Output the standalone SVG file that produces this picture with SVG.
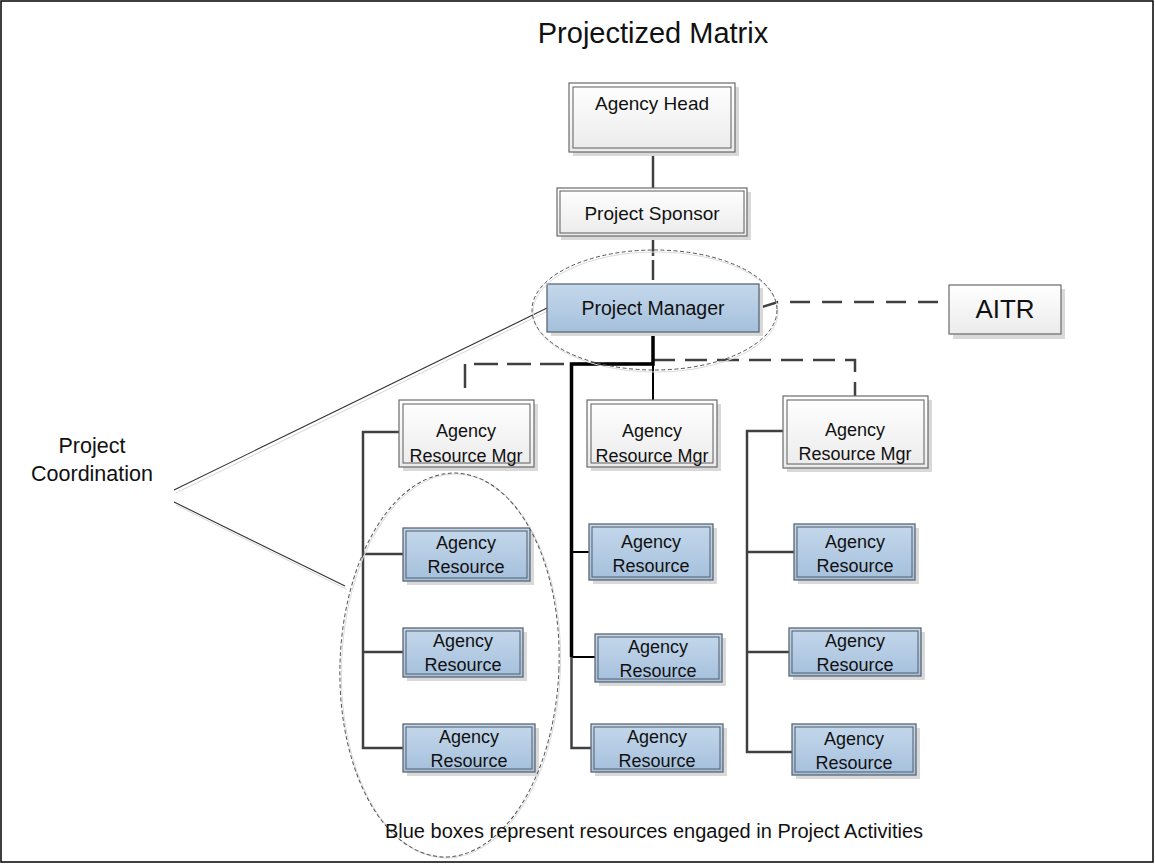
<svg xmlns="http://www.w3.org/2000/svg" width="1155" height="864" viewBox="0 0 1155 864">
<defs>
<linearGradient id="gw" x1="0" y1="0" x2="0" y2="1">
<stop offset="0" stop-color="#ffffff"/>
<stop offset="1" stop-color="#ebebeb"/>
</linearGradient>
<linearGradient id="gb" x1="0" y1="0" x2="0" y2="1">
<stop offset="0" stop-color="#c4d8eb"/>
<stop offset="1" stop-color="#a5c0dc"/>
</linearGradient>
</defs>
<style>
text{font-family:"Liberation Sans",Arial,sans-serif;fill:#111;text-anchor:middle}
.sh{fill:#d9d9d9}
.wo{fill:url(#gw);stroke:#6a6a6a;stroke-width:1.2}
.bo{fill:url(#gb);stroke:#5b6673;stroke-width:1.3}
.in{fill:none;stroke:#6a6a6a;stroke-width:1.1}
.bi{fill:none;stroke:#5b6673;stroke-width:1.1}
.c{fill:none;stroke:#404040;stroke-width:2.5}
.k{fill:none;stroke:#000;stroke-width:2}
.kk{fill:none;stroke:#000;stroke-width:3.5}
.d{fill:none;stroke:#404040;stroke-width:2.5}
.pc{fill:none;stroke:#333;stroke-width:1.1}
.pcs{fill:none;stroke:#d6d6d6;stroke-width:1}
.el{fill:none;stroke:#555;stroke-width:1;stroke-dasharray:4 2.5}
.els{fill:none;stroke:#dadada;stroke-width:1}
.t19{font-size:19px}
.t18{font-size:18px}
</style>
<rect x="1" y="1" width="1152" height="861" fill="#fff" stroke="#000" stroke-width="1.5"/>
<text x="653" y="43" style="font-size:29px">Projectized Matrix</text>

<g id="connectors">
<path class="c" d="M653,152 V188"/>
<path class="d" d="M653,236 V284" stroke-dasharray="20 4"/>
<path class="d" d="M759,308 L778,302 H949" stroke-dasharray="20 12"/>
<path class="d" d="M465,388 V364 H653" stroke-dasharray="24 9"/>
<path class="d" d="M653,360 H855 V396" stroke-dasharray="22 10"/>
<path class="k" d="M653,332 V400"/>
<path class="kk" d="M653,332 V364 H571.5 V657"/>
<path class="k" d="M571.5,552 H589"/>
<path class="k" d="M571.5,657 H595"/>
<path class="c" d="M571.5,657 V748 H591"/>
<path class="c" d="M399,432 H363 V748 H403"/>
<path class="c" d="M363,554 H403"/>
<path class="c" d="M363,652 H403"/>
<path class="c" d="M783,431 H747 V752 H792"/>
<path class="c" d="M747,552 H794"/>
<path class="c" d="M747,652 H789"/>
<path class="pcs" d="M176,493 L548,311"/>
<path class="pcs" d="M176,505 L346,589"/>
<path class="pc" d="M174,490 L547,308"/>
<path class="pc" d="M174,502 L345,586"/>
</g>

<g id="agency-head">
<rect class="sh" x="573" y="87" width="166" height="69"/>
<rect class="wo" x="569" y="83" width="166" height="69"/>
<rect class="in" x="573" y="87" width="158" height="61"/>
<text class="t19" x="652" y="110">Agency Head</text>
</g>

<g id="project-sponsor">
<rect class="sh" x="561" y="192" width="190" height="48"/>
<rect class="wo" x="557" y="188" width="190" height="48"/>
<rect class="in" x="560" y="191" width="184" height="42"/>
<text class="t19" x="652" y="220">Project Sponsor</text>
</g>

<g id="project-manager">
<rect class="sh" x="551" y="288" width="212" height="48"/>
<rect class="bo" x="547" y="284" width="212" height="48"/>
<text x="653" y="315" style="font-size:19.5px">Project Manager</text>
</g>

<g id="aitr">
<rect class="sh" x="953" y="289" width="112" height="50"/>
<rect class="wo" x="949" y="285" width="112" height="49"/>
<text x="1005" y="318" style="font-size:26px">AITR</text>
</g>

<g id="arm-left">
<rect class="sh" x="403" y="404" width="135" height="67"/>
<rect class="wo" x="399" y="400" width="135" height="67"/>
<rect class="in" x="403" y="404" width="127" height="59"/>
<text class="t18" x="466" y="437">Agency</text>
<text class="t18" x="466" y="462">Resource Mgr</text>
</g>

<g id="arm-middle">
<rect class="sh" x="591" y="404" width="130" height="67"/>
<rect class="wo" x="587" y="400" width="130" height="67"/>
<rect class="in" x="591" y="404" width="122" height="59"/>
<text class="t18" x="652" y="437">Agency</text>
<text class="t18" x="652" y="462">Resource Mgr</text>
</g>

<g id="arm-right">
<rect class="sh" x="787" y="400" width="145" height="72"/>
<rect class="wo" x="783" y="396" width="145" height="72"/>
<rect class="in" x="787" y="400" width="137" height="64"/>
<text class="t18" x="855" y="436">Agency</text>
<text class="t18" x="855" y="460">Resource Mgr</text>
</g>

<g id="ar-left-1">
<rect class="sh" x="407" y="532" width="127" height="53"/>
<rect class="bo" x="403" y="528" width="127" height="53"/>
<rect class="bi" x="406" y="531" width="121" height="47"/>
<text class="t18" x="466" y="549">Agency</text>
<text class="t18" x="466" y="573">Resource</text>
</g>
<g id="ar-left-2">
<rect class="sh" x="407" y="632" width="120" height="49"/>
<rect class="bo" x="403" y="628" width="120" height="49"/>
<rect class="bi" x="406" y="631" width="114" height="43"/>
<text class="t18" x="463" y="647">Agency</text>
<text class="t18" x="463" y="671">Resource</text>
</g>
<g id="ar-left-3">
<rect class="sh" x="407" y="728" width="132" height="48"/>
<rect class="bo" x="403" y="724" width="132" height="48"/>
<rect class="bi" x="406" y="727" width="126" height="42"/>
<text class="t18" x="469" y="743">Agency</text>
<text class="t18" x="469" y="767">Resource</text>
</g>

<g id="ar-middle-1">
<rect class="sh" x="593" y="528" width="124" height="56"/>
<rect class="bo" x="589" y="524" width="124" height="56"/>
<rect class="bi" x="592" y="527" width="118" height="50"/>
<text class="t18" x="651" y="548">Agency</text>
<text class="t18" x="651" y="572">Resource</text>
</g>
<g id="ar-middle-2">
<rect class="sh" x="599" y="638" width="127" height="48"/>
<rect class="bo" x="595" y="634" width="127" height="48"/>
<rect class="bi" x="598" y="637" width="121" height="42"/>
<text class="t18" x="658" y="653">Agency</text>
<text class="t18" x="658" y="677">Resource</text>
</g>
<g id="ar-middle-3">
<rect class="sh" x="595" y="728" width="132" height="48"/>
<rect class="bo" x="591" y="724" width="132" height="48"/>
<rect class="bi" x="594" y="727" width="126" height="42"/>
<text class="t18" x="657" y="743">Agency</text>
<text class="t18" x="657" y="767">Resource</text>
</g>

<g id="ar-right-1">
<rect class="sh" x="798" y="528" width="121" height="56"/>
<rect class="bo" x="794" y="524" width="121" height="56"/>
<rect class="bi" x="797" y="527" width="115" height="50"/>
<text class="t18" x="855" y="548">Agency</text>
<text class="t18" x="855" y="572">Resource</text>
</g>
<g id="ar-right-2">
<rect class="sh" x="793" y="632" width="132" height="48"/>
<rect class="bo" x="789" y="628" width="132" height="48"/>
<rect class="bi" x="792" y="631" width="126" height="42"/>
<text class="t18" x="855" y="647">Agency</text>
<text class="t18" x="855" y="671">Resource</text>
</g>
<g id="ar-right-3">
<rect class="sh" x="796" y="728" width="124" height="51"/>
<rect class="bo" x="792" y="724" width="124" height="51"/>
<rect class="bi" x="795" y="727" width="118" height="45"/>
<text class="t18" x="854" y="745">Agency</text>
<text class="t18" x="854" y="769">Resource</text>
</g>

<g id="groupings">
<ellipse class="els" cx="655.5" cy="312" rx="122.5" ry="60"/>
<ellipse class="el" cx="654.5" cy="310" rx="122.5" ry="60"/>
<ellipse class="els" cx="451" cy="666" rx="109.5" ry="192" transform="rotate(2 451 666)"/>
<ellipse class="el" cx="449.5" cy="665" rx="109.5" ry="192" transform="rotate(2 449.5 665)"/>
</g>

<g id="labels">
<text x="92" y="453" style="font-size:21.5px">Project</text>
<text x="92" y="481" style="font-size:21.5px">Coordination</text>
<text x="654" y="838" style="font-size:20px">Blue boxes represent resources engaged in Project Activities</text>
</g>
</svg>
